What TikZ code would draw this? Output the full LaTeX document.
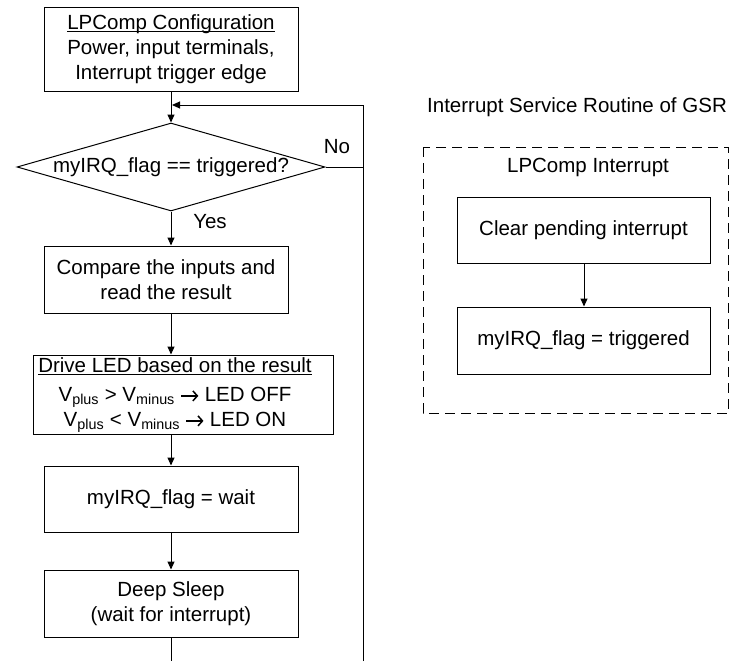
\documentclass[tikz,border=0pt]{standalone}
\usepackage{fontspec}
\setmainfont{Liberation Sans}
\usetikzlibrary{arrows.meta,shapes.geometric,calc}
% underline set close to the baseline
\newcommand\ulbase[1]{\leavevmode\setbox0\hbox{#1}\rlap{\rule[-2.5pt]{\wd0}{1pt}}\box0}
% bold arrow with an open chevron head
\newcommand\rarrow{\tikz[baseline=-0.5ex,x=1pt,y=1pt]\draw[line width=1.5pt,line cap=butt,
  -{Straight Barb[length=4.5pt,width=10pt,line width=1.5pt]}] (0,0)--(17,0);}
\begin{document}
\begin{tikzpicture}[x=1pt,y=-1pt,
  font=\fontsize{20.5}{25}\selectfont,
  line width=1pt,
  box/.style={draw, rectangle, inner sep=0pt, align=center},
  arr/.style={-{Triangle[length=8pt,width=7pt]}},
  lbl/.style={inner sep=0pt}]
\useasboundingbox (0,0) rectangle (730,661);

% main column and loop-back rail
\coordinate (col) at (171,0);
\coordinate (rail) at (363,0);

% main flow
\node[box, minimum width=254, minimum height=83] (cfg) at (171,49.5)
  {\ulbase{LPComp Configuration}\\Power, input terminals,\\Interrupt trigger edge};
\coordinate (join) at (171,105);
\node[diamond, draw, inner sep=0pt, minimum width=308, minimum height=88,
  label={[lbl]center:myIRQ\_flag == triggered?}] (dec) at (171,167) {};
\node[box, minimum width=244, minimum height=67] (cmp) at (166,279.5)
  {Compare the inputs and\\read the result};
\node[draw, rectangle, minimum width=300, minimum height=79, inner sep=0pt] (led) at (183,394.5) {};
\node[lbl, align=center] (ledtxt) at (175,395)
  {\ulbase{Drive LED based on the result}\\[4pt]
   V\textsubscript{plus} > V\textsubscript{minus} \rarrow{} LED OFF\\[0pt]
   V\textsubscript{plus} < V\textsubscript{minus} \rarrow{} LED ON};
\node[box, minimum width=254, minimum height=66] (wait) at (171,499) {myIRQ\_flag = wait};
\node[box, minimum width=254, minimum height=67] (sleep) at (171,603.5)
  {Deep Sleep\\(wait for interrupt)};
\coordinate (bot) at (171,661);
\coordinate (railbot) at (363,661);

\node[lbl] (no) at (337,147) {No};
\node[lbl] (yes) at (210,222) {Yes};

% connectors
\draw (cfg.south) -- (join);
\draw[arr] (join) -- (dec.north);
\draw[arr] (dec.south) -- (cmp.north -| col);
\draw[arr] (cmp.south -| col) -- (led.north -| col);
\draw[arr] (led.south -| col) -- (wait.north);
\draw[arr] (wait.south) -- (sleep.north);
\draw (sleep.south) -- (bot);
\draw (dec.east) -- (dec.east -| rail);
\draw[arr] (railbot) |- ($(join)+(1,0)$);

% interrupt service routine
\node[lbl] (isr) at (577,107) {Interrupt Service Routine of GSR};
\draw[dash pattern=on 10pt off 6pt] (423,147) rectangle (728.5,413);
\node[lbl] (irq) at (588,167) {LPComp Interrupt};
\node[box, minimum width=253, minimum height=66] (clr) at (583.5,230) {Clear pending interrupt};
\node[box, minimum width=253, minimum height=67] (trig) at (583.5,340.5) {myIRQ\_flag = triggered};
\draw[arr] (clr.south -| 584,0) -- (trig.north -| 584,0);
\end{tikzpicture}
\end{document}
